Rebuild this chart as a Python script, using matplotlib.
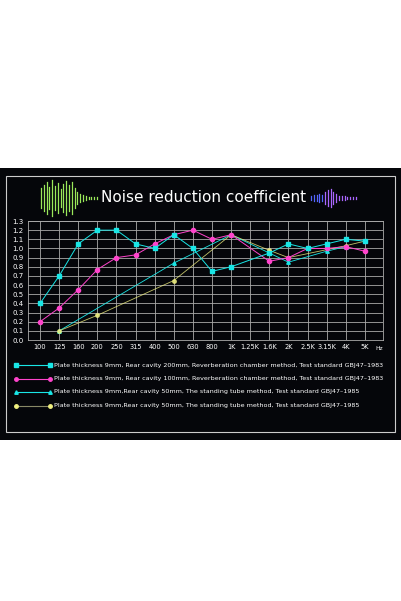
import matplotlib
matplotlib.use("Agg")
import matplotlib.pyplot as plt
from matplotlib.patches import Rectangle

freqs = ["100", "125", "160", "200", "250", "315", "400", "500", "630", "800",
         "1K", "1.25K", "1.6K", "2K", "2.5K", "3.15K", "4K", "5K"]

s1_x = list(range(18))
s1_x.remove(11)
s1_y = [0.40, 0.70, 1.05, 1.20, 1.20, 1.05, 1.00, 1.15, 1.00, 0.75, 0.80,
        0.95, 1.05, 1.00, 1.05, 1.10, 1.08]
s2_x = [0, 1, 2, 3, 4, 5, 6, 7, 8, 9, 10, 12, 13, 14, 15, 16, 17]
s2_y = [0.20, 0.35, 0.55, 0.77, 0.90, 0.93, 1.05, 1.15, 1.20, 1.10, 1.15,
        0.86, 0.90, 1.00, 1.00, 1.02, 0.97]
s3_x = [1, 7, 10, 13, 15, 16]
s3_y = [0.10, 0.84, 1.15, 0.85, 0.97, 1.02]
s4_x = [1, 3, 7, 10, 12, 13, 16, 17]
s4_y = [0.10, 0.27, 0.65, 1.15, 0.98, 0.90, 1.03, 1.08]

labels = [
    "Plate thickness 9mm, Rear cavity 200mm, Reverberation chamber method, Test standard GBJ47\u20131983",
    "Plate thickness 9mm, Rear cavity 100mm, Reverberation chamber method, Test standard GBJ47\u20131983",
    "Plate thickness 9mm,Rear cavity 50mm, The standing tube method, Test standard GBJ47\u20131985",
    "Plate thickness 9mm,Rear cavity 50mm, The standing tube method, Test standard GBJ47\u20131985",
]
cyan = "#19e6e6"
mag = "#ff44cc"
yel = "#f0f080"

fig = plt.figure(figsize=(4.01, 6.01), dpi=100)
fig.patch.set_facecolor("white")

# чорна панель
fig.add_artist(Rectangle((0.0, 1 - 440 / 601), 1.0, 272 / 601, transform=fig.transFigure,
                         facecolor="#05060a", edgecolor="none", zorder=-10))
fig.add_artist(Rectangle((6 / 401, 1 - 432 / 601), 389 / 401, 256 / 601, transform=fig.transFigure,
                         facecolor="none", edgecolor="#cccccc", lw=0.8, zorder=-9))

fig.text(204 / 401, 1 - 198 / 601, "Noise reduction coefficient", color="white",
         fontsize=11, ha="center", va="center")

# декоративні хвилі
lw_h = [10, 13, 16, 11, 18, 12, 15, 9, 14, 17, 13, 16, 10, 6, 4, 3, 2, 1, 1, 1, 1]
for i, h in enumerate(lw_h):
    x = (41 + i * 2.8) / 401
    fig.add_artist(plt.Line2D([x, x], [1 - (198 - h) / 601, 1 - (198 + h) / 601],
                              transform=fig.transFigure, color="#9be85a", lw=0.9))
rw_h = [2, 3, 3, 4, 3, 6, 8, 9, 6, 4, 2, 2, 2, 1, 1, 1, 1]
for i, h in enumerate(rw_h):
    x = (311 + i * 2.8) / 401
    c = "#5566ff" if i < 5 else "#aa66ff"
    fig.add_artist(plt.Line2D([x, x], [1 - (198 - h) / 601, 1 - (198 + h) / 601],
                              transform=fig.transFigure, color=c, lw=0.9))

ax = fig.add_axes([28 / 401, 1 - 340 / 601, 355 / 401, 119 / 601])
ax.set_facecolor("#05060a")
ax.set_xlim(-0.63, 17.95)
ax.set_ylim(0, 1.3)
ax.set_yticks([i / 10 for i in range(14)])
ax.set_yticklabels([f"{i / 10:.1f}" for i in range(14)], color="white", fontsize=5)
ax.set_xticks(range(18))
ax.set_xticklabels(freqs, color="white", fontsize=4.8)
ax.text(17.75, -0.07, "Hz", color="white", fontsize=4.3, ha="center", va="top")
ax.tick_params(length=0, pad=3)
ax.grid(True, color="#aaaaaa", lw=0.6)
for sp in ax.spines.values():
    sp.set_color("#aaaaaa")
    sp.set_linewidth(0.6)

ax.plot(s3_x, s3_y, color=cyan, lw=0.6, marker="^", ms=2.5)
ax.plot(s4_x, s4_y, color=yel, lw=0.6, marker="o", ms=2.5, alpha=0.8)
ax.plot(s2_x, s2_y, color=mag, lw=0.7, marker="o", ms=3)
ax.plot(s1_x, s1_y, color=cyan, lw=0.7, marker="s", ms=3)

styles = [(cyan, "s", cyan), (mag, "o", mag), (cyan, "^", cyan), ("#888866", "o", yel)]
for k, (lab, (lc, mk, mc)) in enumerate(zip(labels, styles)):
    y = 1 - (365 + k * 13.5) / 601
    x0, x1 = 16 / 401, 50 / 401
    fig.add_artist(plt.Line2D([x0, x1], [y, y], transform=fig.transFigure, color=lc, lw=0.8))
    for xx in (x0, x1):
        fig.add_artist(plt.Line2D([xx], [y], transform=fig.transFigure, marker=mk,
                                  color=mc, ms=2.5, lw=0))
    fig.text(54 / 401, y, lab, color="white", fontsize=4.6, va="center")

fig.savefig("out.png", dpi=100, facecolor="white")
